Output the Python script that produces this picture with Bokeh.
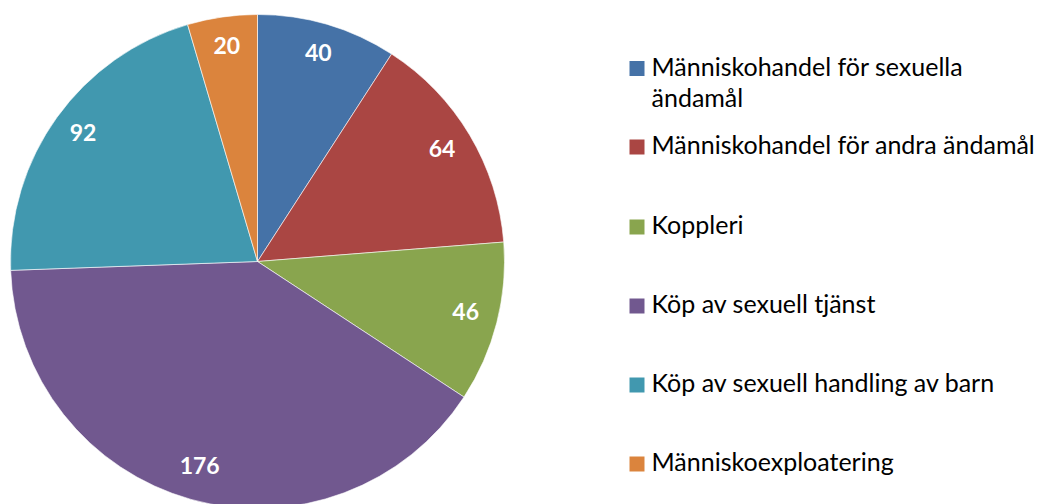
import math
from bokeh.plotting import figure
from bokeh.models import ColumnDataSource
from bokeh.core.properties import value
from bokeh.embed import file_html
from bokeh.resources import INLINE

categories = [
    "Människohandel för sexuella ändamål",
    "Människohandel för andra ändamål",
    "Koppleri",
    "Köp av sexuell tjänst",
    "Köp av sexuell handling av barn",
    "Människoexploatering",
]
legend_lines = [
    ["Människohandel för sexuella", "ändamål"],
    ["Människohandel för andra ändamål"],
    ["Koppleri"],
    ["Köp av sexuell tjänst"],
    ["Köp av sexuell handling av barn"],
    ["Människoexploatering"],
]
values = [40, 64, 46, 176, 92, 20]
colors = ["#4572A7", "#AA4643", "#89A54E", "#71588F", "#4198AF", "#DB843D"]

W, H = 1038, 504

def py(y):
    return H - y

cx, cy, R = 257, py(261), 247

total = sum(values)
starts, ends, mids = [], [], []
cum = 0
for v in values:
    a0 = math.pi / 2 - 2 * math.pi * cum / total
    cum += v
    a1 = math.pi / 2 - 2 * math.pi * cum / total
    starts.append(a0)
    ends.append(a1)
    mids.append((a0 + a1) / 2)

src = ColumnDataSource(dict(start=starts, end=ends, color=colors, cat=categories))

p = figure(width=W, height=H, x_range=(0, W), y_range=(0, H),
           x_axis_type=None, y_axis_type=None, toolbar_location=None,
           output_backend="svg", min_border=0, outline_line_color=None)
p.grid.visible = False
p.background_fill_color = "white"

p.wedge(x=cx, y=cy, radius=R, start_angle="start", end_angle="end",
        direction="clock", fill_color="color", line_color="white",
        line_width=0.6, source=src)

lr = 0.87 * R
lx = [cx + lr * math.cos(m) for m in mids]
ly = [cy + lr * math.sin(m) + 3 for m in mids]
p.text(x=lx, y=ly, text=[str(v) for v in values], text_color="white",
       text_font=value("Lato"), text_font_style="bold", text_font_size="23px",
       text_align="center", text_baseline="middle")

# legend
sq_y = [68, 146.5, 226.5, 305.5, 384.5, 463.5]
p.rect(x=[636.5] * 6, y=[py(v) for v in sq_y], width=15, height=15,
       fill_color=colors, line_color=None)
tx, ty, tt = [], [], []
for yy, lines in zip(sq_y, legend_lines):
    for i, ln in enumerate(lines):
        tx.append(651)
        ty.append(py(yy - 3 + 31 * i))
        tt.append(ln)
p.text(x=tx, y=ty, text=tt, text_color="#000000", text_font=value("Lato"),
       text_font_size="25px", text_align="left", text_baseline="middle")

open("out.html", "w").write(file_html(p, INLINE))
